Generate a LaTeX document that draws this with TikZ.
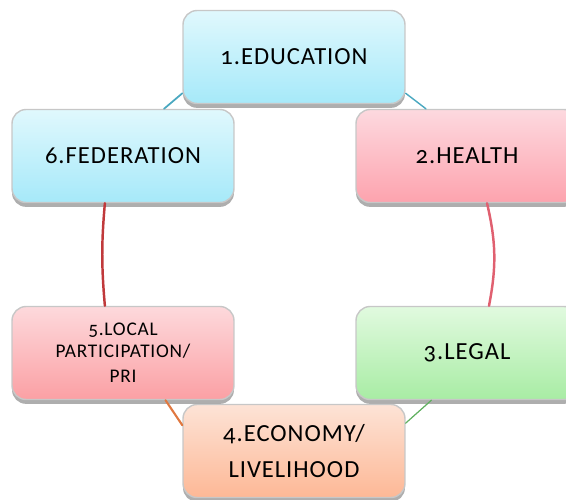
\documentclass[tikz,border=0pt]{standalone}
\usepackage{fontspec}
\setmainfont[Numbers=OldStyle, LetterSpace=4]{Carlito}
\usetikzlibrary{shadows}
\definecolor{bluetop}{HTML}{E0F8FD}
\definecolor{bluebot}{HTML}{A6E9F9}
\definecolor{pinktop}{HTML}{FDD9DF}
\definecolor{pinkbot}{HTML}{FDA3AE}
\definecolor{redtop}{HTML}{FDD9DC}
\definecolor{redbot}{HTML}{FBA0A4}
\definecolor{greentop}{HTML}{E1FADF}
\definecolor{greenbot}{HTML}{A8ECA4}
\definecolor{peachtop}{HTML}{FDE3D6}
\definecolor{peachbot}{HTML}{FDB896}

\begin{document}
\begin{tikzpicture}[x=0.02cm, y=-0.02cm,
    topic/.style 2 args={rectangle, rounded corners=8pt, draw=black!22, line width=0.8pt,
      top color=#1, bottom color=#2, minimum width=4.44cm, minimum height=1.86cm,
      align=center, font=\fontsize{14}{20}\selectfont,
      drop shadow={shadow xshift=0pt, shadow yshift=-2.5pt, fill=black!45, opacity=0.7}},
    link/.style={line width=#1, line cap=round}]
      \useasboundingbox (0,0) rectangle (566,500);

      \node[topic={bluetop}{bluebot}] (edu) at (294,57) {1.EDUCATION};
      \node[topic={pinktop}{pinkbot}] (hea) at (467,156) {2.HEALTH};
      \node[topic={greentop}{greenbot}] (leg) at (467,353) {3.LEGAL};
      \node[topic={peachtop}{peachbot}] (eco) at (294,451) {4.ECONOMY/\\LIVELIHOOD};
      \node[topic={redtop}{redbot}, font=\fontsize{11}{12.5}\selectfont] (loc) at (123,353) {5.LOCAL\\PARTICIPATION/\\[1.5pt]PRI};
      \node[topic={bluetop}{bluebot}] (fed) at (123,156) {6.FEDERATION};

      \draw [link=1pt, draw={rgb,255:red,74;green,168;blue,192}] (edu.-162) -- (fed.49);
      \draw [link=0.8pt, draw={rgb,255:red,74;green,168;blue,192}] (edu.-18) -- (hea.131);
      \draw [link=1.4pt, draw={rgb,255:red,224;green,96;blue,112}] (hea.-67) to[bend left=12] (leg.65);
      \draw [link=1.2pt, draw={rgb,255:red,224;green,120;blue,64}] (loc.-48) -- (eco.167);
      \draw [link=0.7pt, draw={rgb,255:red,96;green,176;blue,96}] (leg.-127) -- (eco.14);
      \draw [link=1.4pt, draw={rgb,255:red,192;green,57;blue,59}] (fed.-111) to[bend right=5] (loc.111);
    \end{tikzpicture}
\end{document}
